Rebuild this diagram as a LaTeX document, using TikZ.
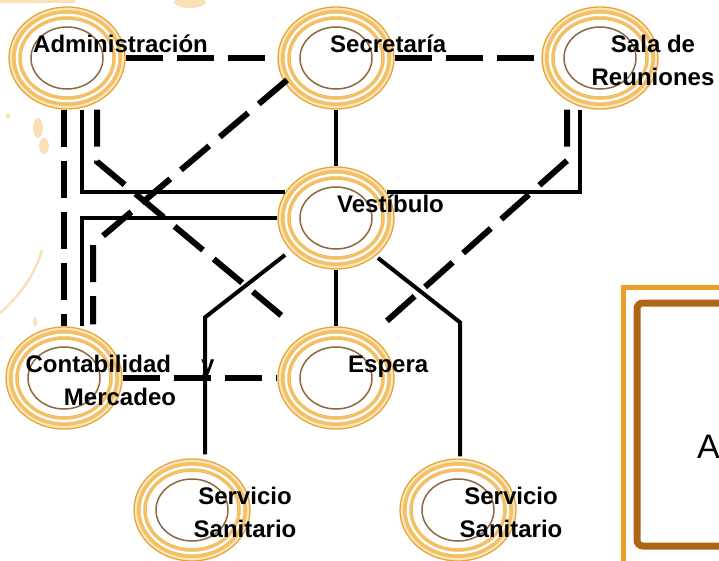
\documentclass[tikz,border=0pt]{standalone}
\usepackage{fontspec}
\setmainfont{Liberation Sans}
\usetikzlibrary{calc,shapes.geometric}

\definecolor{ringlight}{RGB}{243,192,102}
\definecolor{ringpale}{RGB}{251,230,190}
\definecolor{ringdark}{RGB}{232,164,56}
\definecolor{ringbrown}{RGB}{140,104,68}
\definecolor{stain}{RGB}{249,224,182}
\definecolor{boxorange}{RGB}{234,160,40}
\definecolor{boxbrown}{RGB}{172,102,22}

\begin{document}
\begin{tikzpicture}[x=1pt, y=-1pt,
    room/.style={ellipse, minimum width=116pt, minimum height=102pt, inner sep=0pt,
      draw=ringdark, line width=1.3pt, fill=ringpale,
      path picture={
        \draw[ringlight, line width=4pt] (path picture bounding box.center) ellipse [x radius=53pt, y radius=46pt];
        \draw[white, line width=2.5pt] (path picture bounding box.center) ellipse [x radius=50pt, y radius=43pt];
        \draw[ringlight, line width=3.5pt] (path picture bounding box.center) ellipse [x radius=47pt, y radius=40pt];
        \fill[white] (path picture bounding box.center) ellipse [x radius=45pt, y radius=38pt];
        \draw[ringbrown, line width=1.5pt] (path picture bounding box.center) ellipse [x radius=36pt, y radius=31pt];}},
    wire/.style={line width=4pt},
    dashline/.style={line width=6pt, dash pattern=on 37pt off 14pt},
    lbl/.style={font=\fontsize{24}{33}\selectfont\bfseries, inner sep=0pt, align=center}]
  \useasboundingbox (0,0) rectangle (719,560);
  \clip (0,0) rectangle (719,560);

  % stains in the background
  \fill[stain] (0,0) rectangle (75,3);
  \fill[stain] (190,2) ellipse [x radius=16, y radius=6];
  \fill[stain] (38,128) ellipse [x radius=5, y radius=10];
  \fill[stain] (44,146) ellipse [x radius=5, y radius=8];
  \fill[stain] (8,116) circle (2.5);
  \draw[stain, line width=2.5pt] (0,313) .. controls (20,295) and (35,275) .. (42,250);
  \fill[stain] (35,322) ellipse [x radius=2, y radius=5];

  % rooms
  \node[room] (adm) at (67,58) {};
  \node[room] (sec) at (336,58) {};
  \node[room] (sala) at (600,58) {};
  \node[room] (ves) at (336,218) {};
  \node[room] (cont) at (64,378) {};
  \node[room] (esp) at (336,378) {};
  \node[room] (ss1) at (192,510) {};
  \node[room] (ss2) at (458,510) {};

  % solid links
  \draw[wire] (sec.south) -- (ves.north);
  \draw[wire] ($(adm.south)+(15,0)$) |- (ves.153);
  \draw[wire] (ves.west) -| ($(cont.north)+(18,0)$);
  \draw[wire] ($(sala.south)+(-20,0)$) |- (ves.27);
  \draw[wire] (ves.south) -- (esp.north);
  \draw[wire] ($(ves)+(-51,37)$) -- ($(ss1.north)+(13,-141)$) -- ($(ss1.north)+(13,-4)$);
  \draw[wire] ($(ves)+(42,40)$) -- ($(ss2.north)+(2,-136)$) -- ($(ss2.north)+(2,-2)$);

  % dashed links
  \draw[dashline] (adm.east) -- (sec.west);
  \draw[dashline] (sec.east) -- (sala.west);
  \draw[dashline] (cont.east) -- (esp.west);
  \draw[dashline] (adm.south -| cont.north) -- (cont.north);
  \draw[dashline] ($(adm.south)+(30,0)$) -- ++(0,52) -- ($(esp.north)+(-44,-2)$);
  \draw[dashline] ($(sala.south)+(-33,0)$) -- ++(0,51) -- ($(esp.north)+(47,-2)$);
  \draw[dashline] ($(sec)+(-49,22)$) -- ($(cont.north)+(29,-82)$) -- ($(cont.north)+(29,-2)$);

  % labels
  \node[lbl, anchor=base west] (admL) at ($(adm)+(-34,-6)$) {Administración};
  \node[lbl, anchor=base west] (secL) at ($(sec)+(-6,-6)$) {Secretaría};
  \node[lbl] (salaL) at ($(sala)+(53,2)$) {Sala de\\Reuniones};
  \node[lbl, anchor=base west] (vesL) at ($(ves)+(1,-6)$) {Vestíbulo};
  \node[lbl, anchor=base west] (espL) at ($(esp)+(12,-6)$) {Espera};
  \node[lbl] (contL) at ($(cont)+(56,2)$) {Contabilidad\hspace{30pt}y\\Mercadeo};
  \node[lbl] (ss1L) at ($(ss1)+(53,2)$) {Servicio\\Sanitario};
  \node[lbl] (ss2L) at ($(ss2)+(53,2)$) {Servicio\\Sanitario};

  % box at the right edge, cut off
  \draw[boxorange, line width=5pt] (623,287) rectangle (760,600);
  \draw[boxbrown, line width=7pt, rounded corners=6pt] (637,303) rectangle (760,546);
  \node[font=\fontsize{34}{40}\selectfont, anchor=base west, inner sep=0pt] (boxA) at (697,458) {A};
\end{tikzpicture}
\end{document}
